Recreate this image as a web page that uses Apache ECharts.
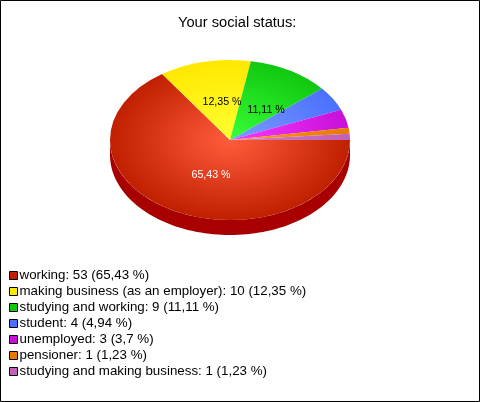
<!DOCTYPE html>
<html><head><meta charset="utf-8">
<style>html,body{margin:0;padding:0;background:#fff}#c{width:480px;height:402px}</style>
<script src="https://cdn.jsdelivr.net/npm/echarts@6/dist/echarts.min.js"></script>
</head><body><div id="c"></div>
<script>
const chartTitle = 'Your social status:';
const categories = ['working','making business (as an employer)','studying and working','student','unemployed','pensioner','studying and making business'];
const counts = [53,10,9,4,3,1,1];
const percentLabels = ['65,43 %','12,35 %','11,11 %','4,94 %','3,7 %','1,23 %','1,23 %'];

const edgeColors = ['#c02000','#ffe800','#10c810','#4a70ff','#c810d8','#e87800','#c060b8'];
const midColors  = ['#ff5c3c','#ffff30','#38ff38','#7c9cff','#f838ff','#ff9c20','#d080c8'];
const sideColors = ['#a80000','#c0a000','#089008','#2040c0','#900090','#b05000','#904088'];
const labelColors = ['#fff','#000','#000'];
const labelNudge = [[-19,35],[-8,-38],[36,-30]];

const cx = 230, cy = 140, rx = 120, ry = 80, depth = 15;
const total = counts.reduce((a,b)=>a+b,0);
const legendNames = categories.map((c,i)=>c+': '+counts[i]+' ('+percentLabels[i]+')');
let acc = 0;
const spans = counts.map(v=>{const s=acc; acc+=v; return [s/total*2*Math.PI, acc/total*2*Math.PI];});

function slice(i){
  return function(params, api){
    const [a0,a1] = spans[i];
    const children = [];
    const s0 = Math.min(a0,Math.PI), s1 = Math.min(a1,Math.PI);
    if (s1 > s0) {
      const pts = [];
      const n = 90;
      for (let k=0;k<=n;k++){const t=s0+(s1-s0)*k/n; pts.push([cx+rx*Math.cos(t), cy+ry*Math.sin(t)]);}
      for (let k=n;k>=0;k--){const t=s0+(s1-s0)*k/n; pts.push([cx+rx*Math.cos(t), cy+depth+ry*Math.sin(t)]);}
      children.push({type:'polygon',shape:{points:pts},style:{fill:sideColors[i]}});
    }
    children.push({
      type:'sector', x:cx, y:cy, scaleY:ry/rx,
      shape:{cx:0,cy:0,r0:0,r:rx,startAngle:a0,endAngle:a1,clockwise:true},
      style:{fill:new echarts.graphic.RadialGradient(0,0,rx,[{offset:0,color:midColors[i]},{offset:1,color:edgeColors[i]}],true)}
    });
    if (labelNudge[i]) {
      children.push({type:'text',z2:50,x:cx+labelNudge[i][0],y:cy+labelNudge[i][1],
        style:{text:percentLabels[i],fill:labelColors[i],font:'10.67px "Liberation Sans", Arial, sans-serif',align:'center',verticalAlign:'middle'}});
    }
    return {type:'group',children};
  };
}

const chart = echarts.init(document.getElementById('c'),null,{renderer:'canvas'});
chart.setOption({
  animation:false,
  backgroundColor:'#fff',
  title:{text:chartTitle,left:173,top:10,textStyle:{fontFamily:'"Liberation Sans", Arial, sans-serif',fontSize:14.67,fontWeight:'normal',color:'#000'}},
  legend:{
    orient:'vertical',left:4,top:264,itemWidth:8,itemHeight:8,itemGap:3,
    icon:'rect',selectedMode:false,
    data:legendNames,
    itemStyle:{borderColor:'#000',borderWidth:1},
    textStyle:{fontFamily:'"Liberation Sans", Arial, sans-serif',fontSize:13.33,color:'#000',padding:[0,0,0,-3],lineHeight:13,height:13}
  },
  graphic:[{type:'rect',z:100,silent:true,shape:{x:0.5,y:0.5,width:479,height:401},style:{fill:'none',stroke:'#000',lineWidth:1}}],
  series:categories.map((c,i)=>({
    type:'custom',name:legendNames[i],coordinateSystem:'none',
    itemStyle:{color:edgeColors[i]},
    data:[counts[i]],
    renderItem:slice(i),silent:true
  }))
});
</script></body></html>
